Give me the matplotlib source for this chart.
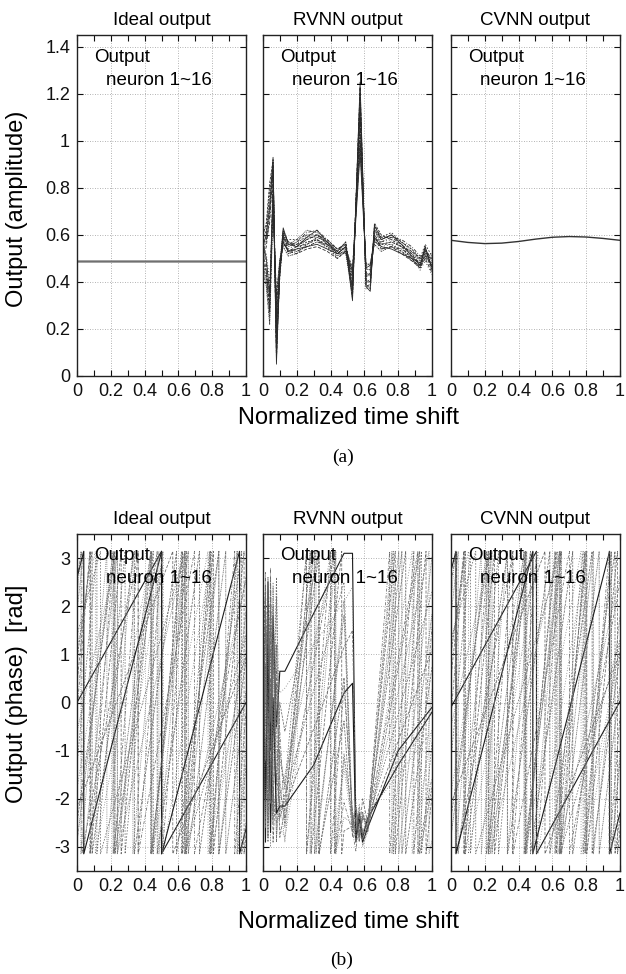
import numpy as np
import matplotlib
matplotlib.use('Agg')
import matplotlib.pyplot as plt

plt.rcParams['font.family'] = ['Liberation Sans', 'DejaVu Sans']

# ---- data ----
panel_titles = ['Ideal output', 'RVNN output', 'CVNN output']
t_ticks = [0, 0.2, 0.4, 0.6, 0.8, 1]
t_labels = ['0', '0.2', '0.4', '0.6', '0.8', '1']
amp_ticks = [0, 0.2, 0.4, 0.6, 0.8, 1.0, 1.2, 1.4]
amp_labels = ['0', '0.2', '0.4', '0.6', '0.8', '1', '1.2', '1.4']
phase_ticks = [-3, -2, -1, 0, 1, 2, 3]
phase_labels = ['-3', '-2', '-1', '0', '1', '2', '3']

# (a) amplitude
ideal_amp = 0.487
cvnn_t = [0, 0.1, 0.2, 0.3, 0.4, 0.5, 0.6, 0.7, 0.8, 0.9, 1.0]
cvnn_amp = [0.577, 0.568, 0.563, 0.565, 0.572, 0.582, 0.590, 0.593, 0.591, 0.585, 0.577]

rvnn_t = [0.00, 0.02, 0.04, 0.06, 0.08, 0.10, 0.12, 0.15, 0.20, 0.26, 0.32, 0.38, 0.44,
          0.49, 0.53, 0.575, 0.61, 0.635, 0.66, 0.70, 0.76, 0.82, 0.88, 0.93, 0.96, 1.00]
rvnn_amp = [
    [0.55, 0.60, 0.72, 0.93, 0.05, 0.46, 0.63, 0.56, 0.55, 0.59, 0.62, 0.57, 0.52, 0.55, 0.32, 1.25, 0.38, 0.36, 0.64, 0.58, 0.60, 0.56, 0.51, 0.47, 0.55, 0.46],
    [0.52, 0.45, 0.30, 0.85, 0.12, 0.44, 0.60, 0.53, 0.52, 0.54, 0.55, 0.53, 0.50, 0.53, 0.36, 1.20, 0.40, 0.40, 0.60, 0.54, 0.55, 0.52, 0.49, 0.46, 0.50, 0.44],
    [0.58, 0.62, 0.78, 0.90, 0.20, 0.42, 0.58, 0.58, 0.58, 0.60, 0.60, 0.56, 0.53, 0.57, 0.40, 1.15, 0.42, 0.44, 0.62, 0.59, 0.61, 0.57, 0.54, 0.50, 0.56, 0.51],
    [0.48, 0.40, 0.25, 0.80, 0.08, 0.48, 0.62, 0.52, 0.53, 0.55, 0.57, 0.55, 0.52, 0.52, 0.34, 1.22, 0.37, 0.38, 0.63, 0.56, 0.57, 0.55, 0.52, 0.48, 0.53, 0.47],
    [0.55, 0.58, 0.65, 0.88, 0.15, 0.45, 0.59, 0.55, 0.57, 0.61, 0.62, 0.58, 0.54, 0.56, 0.38, 1.10, 0.44, 0.42, 0.58, 0.57, 0.59, 0.58, 0.55, 0.51, 0.52, 0.52],
    [0.50, 0.52, 0.40, 0.75, 0.28, 0.47, 0.56, 0.54, 0.56, 0.60, 0.58, 0.54, 0.51, 0.53, 0.42, 1.05, 0.45, 0.46, 0.57, 0.55, 0.56, 0.54, 0.50, 0.45, 0.49, 0.43],
    [0.60, 0.65, 0.82, 0.92, 0.10, 0.43, 0.61, 0.57, 0.55, 0.56, 0.58, 0.56, 0.53, 0.57, 0.33, 1.18, 0.39, 0.37, 0.65, 0.60, 0.58, 0.55, 0.50, 0.46, 0.55, 0.45],
    [0.45, 0.38, 0.22, 0.70, 0.33, 0.50, 0.55, 0.51, 0.52, 0.56, 0.59, 0.57, 0.53, 0.52, 0.45, 1.00, 0.47, 0.48, 0.56, 0.53, 0.55, 0.53, 0.49, 0.47, 0.50, 0.48],
    [0.53, 0.57, 0.70, 0.86, 0.18, 0.44, 0.60, 0.56, 0.58, 0.62, 0.61, 0.56, 0.51, 0.54, 0.37, 1.12, 0.41, 0.40, 0.62, 0.58, 0.60, 0.57, 0.53, 0.49, 0.54, 0.49],
    [0.57, 0.50, 0.35, 0.78, 0.25, 0.46, 0.57, 0.53, 0.54, 0.55, 0.56, 0.54, 0.52, 0.55, 0.44, 0.95, 0.46, 0.47, 0.59, 0.55, 0.54, 0.52, 0.50, 0.48, 0.51, 0.50],
    [0.50, 0.55, 0.68, 0.91, 0.07, 0.45, 0.62, 0.57, 0.56, 0.58, 0.60, 0.57, 0.54, 0.56, 0.35, 1.23, 0.38, 0.39, 0.64, 0.59, 0.59, 0.56, 0.52, 0.47, 0.54, 0.46],
    [0.47, 0.42, 0.28, 0.82, 0.22, 0.47, 0.58, 0.52, 0.54, 0.57, 0.58, 0.55, 0.50, 0.53, 0.39, 1.08, 0.43, 0.43, 0.60, 0.56, 0.56, 0.53, 0.50, 0.46, 0.52, 0.45],
    [0.56, 0.60, 0.75, 0.89, 0.13, 0.43, 0.60, 0.55, 0.57, 0.59, 0.59, 0.57, 0.53, 0.56, 0.36, 1.16, 0.40, 0.41, 0.61, 0.58, 0.60, 0.57, 0.54, 0.50, 0.53, 0.50],
    [0.54, 0.48, 0.33, 0.76, 0.30, 0.48, 0.56, 0.54, 0.53, 0.55, 0.57, 0.56, 0.52, 0.53, 0.43, 1.02, 0.46, 0.45, 0.58, 0.54, 0.55, 0.54, 0.51, 0.48, 0.51, 0.47],
    [0.59, 0.63, 0.80, 0.87, 0.16, 0.44, 0.59, 0.56, 0.56, 0.57, 0.58, 0.55, 0.53, 0.55, 0.41, 1.14, 0.42, 0.44, 0.60, 0.57, 0.58, 0.56, 0.52, 0.49, 0.53, 0.48],
    [0.49, 0.44, 0.27, 0.72, 0.35, 0.49, 0.57, 0.53, 0.55, 0.58, 0.60, 0.58, 0.54, 0.54, 0.46, 0.98, 0.48, 0.47, 0.57, 0.56, 0.57, 0.55, 0.53, 0.50, 0.52, 0.51],
]

# (b) phase: ideal / CVNN lines = start phase at t=0 and number of 2pi turns over [0, 1]
ideal_phase_start = [0.0, -2.2, 1.4, -0.6, 2.6, -1.8, 0.9, -2.9, 1.9, -3.69, 0.4, -1.3, 2.2, -0.2, 1.1, -2.5]
ideal_cycles = [1.0, 1.5, 2.0, 2.5, 3.0, 3.5, 4.0, 4.5, 5.0, 2.17, 5.5, 6.0, 6.5, 7.0, 3.0, 4.0]
cvnn_phase_start = [-0.1, -2.1, 1.3, -0.5, 2.5, -1.9, 1.0, -2.8, 1.8, -3.55, 0.5, -1.2, 2.1, -0.3, 1.2, -2.4]
cvnn_cycles = [1.02, 1.5, 2.0, 2.5, 3.0, 3.5, 4.0, 4.5, 5.0, 2.2, 5.5, 6.0, 6.5, 7.0, 3.0, 4.0]

# RVNN phase: unwrapped phase at key times, per neuron
rvnn_phase_t = [0.00, 0.015, 0.03, 0.045, 0.06, 0.08, 0.10, 0.13, 0.30, 0.48,
                0.53, 0.55, 0.57, 0.59, 0.62, 0.80, 1.00]
rvnn_phase = [
    [2.6, -2.9, 2.5, -1.0, 1.8, -0.5, 0.65, 0.65, 1.85, 3.1, 3.1, -2.9, -2.3, -2.8, -2.4, -1.3, -0.2],
    [1.0, 2.4, -2.5, 0.5, -2.9, -1.5, -2.2, -2.15, -0.55, 1.15, 1.5, -2.2, -2.7, -2.0, -2.5, -0.8, 1.1],
    [-0.5, 1.5, -2.0, 2.2, -1.8, -2.5, -2.3, -1.9, 0.25, 2.5, -2.6, -2.2, -2.9, -2.4, -2.5, -0.25, 2.3],
    [0.3, -1.8, 2.0, -2.6, 1.0, -2.8, -2.0, -1.5, 1.2, 3.9, 3.78, 3.4, 3.9, 3.5, 3.7, 6.5, 9.7],
    [-1.2, 2.7, -0.8, 1.6, -2.2, 0.4, -1.8, -2.4, 0.8, 4.2, 3.6, 3.2, 3.9, 3.4, 3.8, 7.2, 11.0],
    [2.2, -0.5, 1.8, -3.0, 2.5, -1.0, -2.6, -2.8, 0.9, 4.9, 3.7, 4.1, 3.5, 3.9, 3.6, 7.6, 12.0],
    [-2.0, 0.8, -2.8, 2.6, -0.7, 1.2, -2.4, -2.0, 2.3, 6.8, 3.9, 3.5, 4.0, 3.6, 3.8, 8.3, 13.3],
    [1.5, -2.6, 0.6, -1.4, 2.0, -2.9, -1.0, -1.8, 3.0, 8.1, 3.6, 4.1, 3.5, 3.9, 3.7, 8.8, 14.4],
    [-2.7, 1.9, -1.6, 0.2, -2.5, 2.2, -1.6, -2.6, 2.7, 8.4, 3.8, 3.4, 3.9, 3.3, 3.6, 9.3, 15.6],
    [0.5, -2.0, 1.2, -2.7, 0.1, -2.3, -2.15, -2.15, -1.3, 0.2, 0.4, -2.8, -2.4, -2.9, -2.6, -1.0, -0.1],
    [2.0, -1.2, 2.6, -2.0, 0.9, -0.3, -2.8, -2.2, 3.65, 9.9, 10.0, 10.4, 9.8, 10.2, 10.1, 16.3, 23.2],
    [-1.5, 2.3, -2.9, 1.1, -1.0, 2.6, -1.2, -1.7, 4.7, 11.5, 10.2, 9.9, 10.4, 9.8, 10.0, 16.8, 24.3],
    [0.9, -2.4, 1.6, -0.4, 2.4, -1.9, -2.0, -2.9, 4.0, 11.4, 10.1, 10.5, 9.9, 10.3, 9.9, 17.2, 25.4],
    [-0.2, 2.1, -1.3, 2.8, -2.4, 0.7, -0.6, -2.5, 5.0, 12.9, 10.3, 9.8, 10.2, 9.7, 10.0, 17.9, 26.7],
    [2.4, 0.3, -2.2, 1.9, -1.3, 0.9, 0.2, 0.3, 1.2, 2.1, 2.4, -2.6, -2.1, -2.7, -2.3, -1.5, -0.6],
    [-2.9, 0.2, 2.2, -2.1, 1.3, -1.7, 0.0, -0.6, 2.6, 5.9, 3.5, 3.9, 3.4, 4.0, 3.6, 7.0, 10.8],
]

# gnuplot-like monochrome line types, cycling every 9 neurons
line_styles = ['-', (0, (4, 2)), (0, (2, 2)), (0, (1, 1.5)), (0, (4, 2, 1, 2)),
               (0, (1, 2.5)), (0, (3, 1.5)), (0, (2, 1, 1, 1)), (0, (1, 1))]


def wrap(p):
    return p - 2 * np.pi * np.floor((p + np.pi) / (2 * np.pi))


def wrap_line(t, phi):
    # draw an unwrapped phase as gnuplot does: straight pieces with a jump at +-pi
    xs, ys = [t[0]], [wrap(phi[0])]
    for i in range(len(t) - 1):
        t0, t1, p0, p1 = t[i], t[i + 1], phi[i], phi[i + 1]
        k0 = np.floor((p0 + np.pi) / (2 * np.pi))
        k1 = np.floor((p1 + np.pi) / (2 * np.pi))
        if k1 > k0:
            for k in np.arange(k0 + 1, k1 + 1):
                c = -np.pi + 2 * np.pi * k
                tc = t0 + (c - p0) / (p1 - p0) * (t1 - t0)
                xs += [tc, tc]
                ys += [np.pi, -np.pi]
        elif k1 < k0:
            for k in np.arange(k0, k1, -1):
                c = -np.pi + 2 * np.pi * k
                tc = t0 + (c - p0) / (p1 - p0) * (t1 - t0)
                xs += [tc, tc]
                ys += [-np.pi, np.pi]
        xs.append(t1)
        ys.append(wrap(p1))
    return xs, ys


def neuron_style(i):
    ls = line_styles[i % len(line_styles)]
    if ls == '-':
        return dict(ls=ls, color='#1a1a1a', lw=0.8)
    return dict(ls=ls, color='#6a6a6a', lw=0.55)


fig = plt.figure(figsize=(6.26, 9.74), dpi=100)
lefts = [0.123, 0.420, 0.7204]
width = 0.270
top_axes = [fig.add_axes([l, 0.614, width, 0.350]) for l in lefts]
bot_axes = [fig.add_axes([l, 0.1057, width, 0.346]) for l in lefts]


def style_axes(ax, yticks, ylabels, ylim, first):
    ax.set_xlim(0, 1)
    ax.set_ylim(*ylim)
    ax.set_xticks(t_ticks)
    ax.set_xticklabels(t_labels)
    ax.set_xticks(np.arange(0.1, 1.0, 0.2), minor=True)
    ax.set_yticks(yticks)
    if first:
        ax.set_yticklabels(ylabels)
    else:
        ax.set_yticklabels([])
    ax.tick_params(which='both', direction='in', top=True, right=True,
                   length=4, width=0.8, labelsize=13, pad=5, colors='#111111')
    ax.grid(True, which='major', ls=(0, (1, 2)), lw=0.6, color='#9a9a9a')
    for s in ax.spines.values():
        s.set_linewidth(1.0)
        s.set_color('#222222')
    ax.text(0.10, 0.935, 'Output', transform=ax.transAxes, fontsize=13.5,
            ha='left', va='center', zorder=5)
    ax.text(0.17, 0.868, 'neuron 1~16', transform=ax.transAxes, fontsize=13.5,
            ha='left', va='center', zorder=5)


# ---- (a) amplitude ----
for ax, title in zip(top_axes, panel_titles):
    ax.set_title(title, fontsize=13.5, pad=7)

for i in range(16):
    top_axes[0].plot([0, 1], [ideal_amp, ideal_amp], color='#707070', lw=0.8)
for i, amp in enumerate(rvnn_amp):
    st = neuron_style(i)
    top_axes[1].plot(rvnn_t, amp, ls=st['ls'], color='#2a2a2a', lw=0.6)
top_axes[2].plot(cvnn_t, cvnn_amp, color='#333333', lw=1.0)

for k, ax in enumerate(top_axes):
    style_axes(ax, amp_ticks, amp_labels, (0, 1.45), k == 0)

# ---- (b) phase ----
for ax, title in zip(bot_axes, panel_titles):
    ax.set_title(title, fontsize=13.5, pad=7)

for i in range(16):
    st = neuron_style(i)
    p0 = ideal_phase_start[i]
    xs, ys = wrap_line([0, 1], [p0, p0 + 2 * np.pi * ideal_cycles[i]])
    bot_axes[0].plot(xs, ys, **st)
    xs, ys = wrap_line(rvnn_phase_t, rvnn_phase[i])
    bot_axes[1].plot(xs, ys, **st)
    p0 = cvnn_phase_start[i]
    xs, ys = wrap_line([0, 1], [p0, p0 + 2 * np.pi * cvnn_cycles[i]])
    bot_axes[2].plot(xs, ys, **st)

for k, ax in enumerate(bot_axes):
    style_axes(ax, phase_ticks, phase_labels, (-3.5, 3.5), k == 0)

# ---- labels ----
fig.text(0.027, 0.786, 'Output (amplitude)', rotation=90, fontsize=17,
         ha='center', va='center')
fig.text(0.027, 0.288, 'Output (phase)  [rad]', rotation=90, fontsize=17,
         ha='center', va='center')
fig.text(0.557, 0.571, 'Normalized time shift', fontsize=17, ha='center', va='center')
fig.text(0.557, 0.0534, 'Normalized time shift', fontsize=17, ha='center', va='center')
fig.text(0.548, 0.530, '(a)', fontsize=14, ha='center', va='center',
         family=['Liberation Serif', 'DejaVu Serif'])
fig.text(0.545, 0.0144, '(b)', fontsize=14, ha='center', va='center',
         family=['Liberation Serif', 'DejaVu Serif'])

fig.savefig('out.png', dpi=100)
